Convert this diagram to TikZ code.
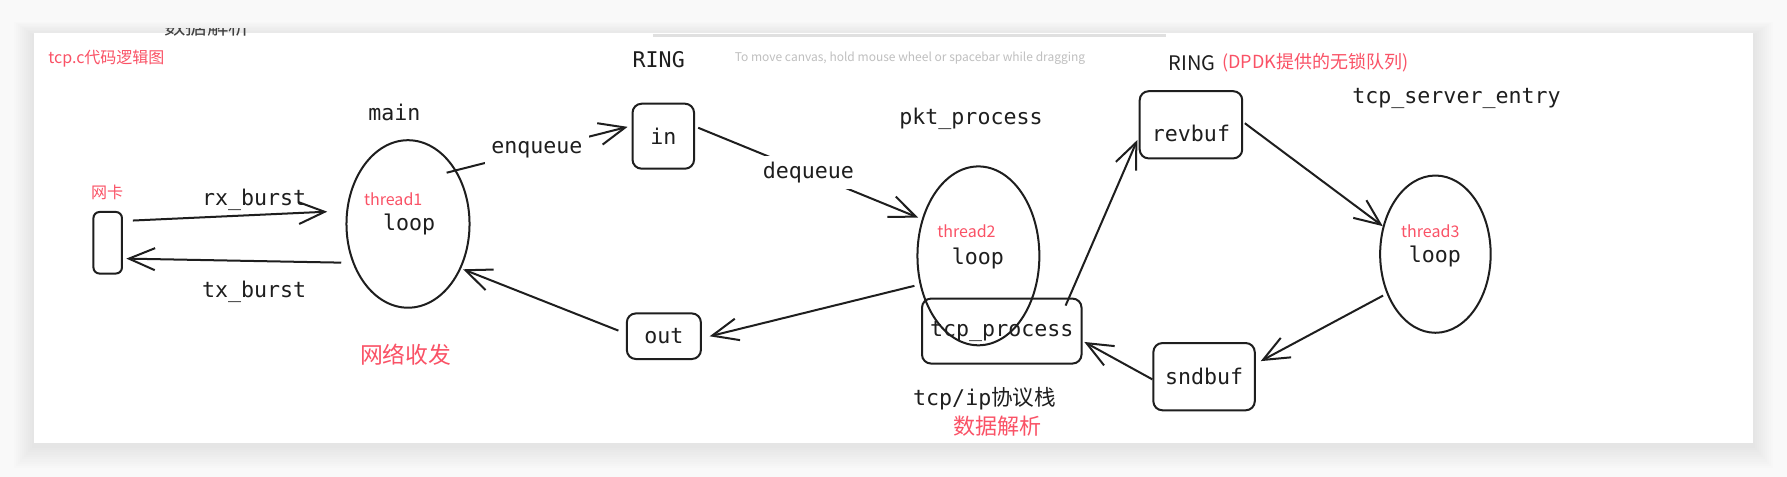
\documentclass[tikz,border=0pt]{standalone}
\usepackage{fontspec}
\setmonofont{DejaVu Sans Mono}
\newfontfamily\cjk{Noto Sans CJK SC}
\usetikzlibrary{shapes.geometric,arrows.meta,calc}
\definecolor{redlbl}{RGB}{250,82,102}
\definecolor{ink}{RGB}{30,30,30}
\definecolor{bgc}{RGB}{249,249,249}
\begin{document}
\begin{tikzpicture}[x=0.02cm,y=-0.02cm,
  mono/.style={font=\ttfamily\fontsize{10.8}{12}\selectfont, text=ink, inner sep=0pt},
  redl/.style={font=\cjk\fontsize{8}{9}\selectfont, text=redlbl, inner sep=0pt},
  box/.style={draw=ink, line width=1pt, rounded corners=4.5pt, inner sep=0pt, font=\ttfamily\fontsize{10.8}{12}\selectfont, text=ink},
  oval/.style={draw=ink, line width=1pt, ellipse, inner sep=0pt},
  arr/.style={draw=ink, line width=1pt, -{Straight Barb[length=13pt,width=11pt,line width=1pt]}},
  cut/.style={fill=white, inner sep=3pt}
]
\useasboundingbox (0,0) rectangle (1568,418.5);
\fill[bgc] (0,0) rectangle (1568,418.5);
\foreach \i in {1,...,10} {
  \fill[black, opacity=0.009] ($(30,31)+(-1.8*\i,-1.2*\i)$) rectangle ($(1538,391)+(1.8*\i,2*\i)$);
}
\fill[white] (30,29) rectangle (1538,389);
\draw[black!12, line width=1.2pt] (573,31) -- (1023,31);

\begin{scope}
\clip (120,24.6) rectangle (260,40);
\node[font=\cjk\fontsize{10.7}{12}\selectfont, text=ink!85, inner sep=0pt] (cutlbl) at (182,23.5) {数据解析};
\end{scope}

% shapes
\node[box, minimum width=0.5cm, minimum height=1.08cm, rounded corners=3pt] (nic) at (94.5,213) {};
\node[oval, minimum width=2.16cm, minimum height=2.94cm] (e1) at (358,196.5) {};
\node[box, minimum width=1.08cm, minimum height=1.14cm] (inb) at (582,119.5) {in};
\node[oval, minimum width=2.14cm, minimum height=3.14cm] (e2) at (858.5,224.5) {};
\node[box, minimum width=2.8cm, minimum height=1.14cm] (tcpp) at (879,290.5) {tcp\_process};
\node[box, minimum width=1.3cm, minimum height=0.8cm] (outb) at (582.5,295) {out};
\node[box, minimum width=1.8cm, minimum height=1.18cm, text height=0.59cm] (revbuf) at (1045,109.5) {revbuf};
\node[oval, minimum width=1.94cm, minimum height=2.76cm] (e3) at (1259.5,223) {};
\node[box, minimum width=1.78cm, minimum height=1.18cm] (sndbuf) at (1056.5,330.5) {sndbuf};

% labels
\node[mono] (lmain) at (346,99) {main};
\node[mono] (lring1) at (578,52) {RING};
\node[mono] (lpkt) at (852,104) {pkt\_process};
\node[mono] (lsrv) at (1278,86) {tcp\_server\_entry};
\node[mono] (lrx) at (223,175) {rx\_burst};
\node[mono] (ltx) at (223,256) {tx\_burst};
\node[mono] (loop1) at (359,197) {loop};
\node[mono] (loop2) at (858,227) {loop};
\node[mono] (loop3) at (1259,225) {loop};
\node[redl] (t1) at (345,175) {thread1};
\node[redl] (t2) at (848,203) {thread2};
\node[redl] (t3) at (1255,203) {thread3};
\node[redl] (lnic) at (94,169) {网卡};
\node[redl, anchor=west] (title) at (42,51) {tcp.c代码逻辑图};
\node[redl, font=\cjk\fontsize{11.4}{13}\selectfont] (lnet) at (356,311) {网络收发};
\node[mono] (lstack) at (864,350) {tcp/ip{\cjk 协议栈}};
\node[redl, font=\cjk\fontsize{11}{13}\selectfont] (lparse) at (875,374) {数据解析};
\node[font=\cjk\fontsize{10}{12}\selectfont, text=ink, inner sep=0pt] (lring2) at (1046,55) {RING};
\node[redl, font=\cjk\fontsize{9}{11}\selectfont, anchor=west] (ldpdk) at (1072,55) {(DPDK提供的无锁队列)};
\node[font=\cjk\fontsize{6}{7}\selectfont, text=black!25, inner sep=0pt] (hint) at (798.5,51) {To move canvas, hold mouse wheel or spacebar while dragging};

% connectors
\draw[arr, shorten <=5pt, shorten >=9.5pt] (nic.55) -- (e1.168);
\draw[arr, shorten <=5.6pt, shorten >=1.7pt] (e1.215) -- (nic.-46);
\draw[arr, shorten <=-5pt, shorten >=2pt] (e1.48) -- node[mono, cut, pos=0.46] {enqueue} (inb.162.5);
\draw[arr, shorten <=1.7pt, shorten >=2pt] (inb.17.5) -- node[mono, cut] {dequeue} (e2.147);
\draw[arr, shorten <=2.7pt, shorten >=4pt] (e2.206) -- (outb.-3.5);
\draw[arr, shorten <=4pt, shorten >=1pt] (outb.176.5) -- (e1.-40);
\draw[arr, shorten >=1.7pt] ([shift={(56,7)}]tcpp.north) -- (revbuf.193);
\draw[arr, shorten <=1pt] (revbuf.3) -- (e3.152);
\draw[arr, shorten <=2pt, shorten >=2.8pt] (e3.219) -- (sndbuf.14.5);
\draw[arr, shorten >=1pt] (sndbuf.183) -- (tcpp.-7);
\end{tikzpicture}
\end{document}
